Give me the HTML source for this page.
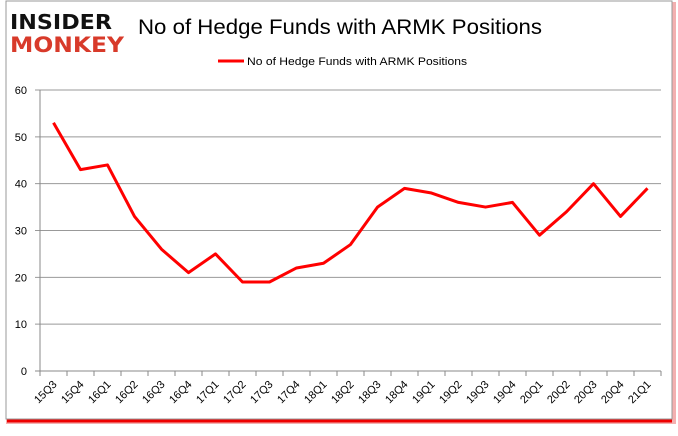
<!DOCTYPE html>
<html><head><meta charset="utf-8"><style>
body{margin:0;background:#fff;width:678px;height:431px;overflow:hidden;font-family:"Liberation Sans",sans-serif}
</style></head><body>
<svg width="678" height="431">
<rect x="8" y="4" width="666" height="418" fill="none" stroke="#f3b0b0" stroke-width="4"/>
<rect x="6" y="1" width="666" height="418" fill="#fff" stroke="#999" stroke-width="1"/>
<line x1="7" y1="421" x2="672" y2="421" stroke="#e00" stroke-width="3"/>
<g font-weight="bold" font-family="'DejaVu Sans',sans-serif">
<text x="10" y="29" font-size="20" fill="#111" textLength="102" lengthAdjust="spacingAndGlyphs">INSIDER</text>
<text x="10" y="52" font-size="21" fill="#d83a2a" textLength="114" lengthAdjust="spacingAndGlyphs">MONKEY</text>
</g>
<text x="138" y="34" font-size="21" fill="#000" textLength="404" lengthAdjust="spacingAndGlyphs">No of Hedge Funds with ARMK Positions</text>
<g>
<line x1="218" y1="61" x2="244" y2="61" stroke="#f00" stroke-width="3"/>
<text x="247" y="65" font-size="11" fill="#000" textLength="220" lengthAdjust="spacingAndGlyphs">No of Hedge Funds with ARMK Positions</text>
</g>
<g id="grid"></g><g id="axes"></g>
<polyline id="line" fill="none" stroke="#f00" stroke-width="3" stroke-linejoin="round"/>
</svg>
<script>
const categories=["15Q3","15Q4","16Q1","16Q2","16Q3","16Q4","17Q1","17Q2","17Q3","17Q4","18Q1","18Q2","18Q3","18Q4","19Q1","19Q2","19Q3","19Q4","20Q1","20Q2","20Q3","20Q4","21Q1"];
const values=[53,43,44,33,26,21,25,19,19,22,23,27,35,39,38,36,35,36,29,34,40,33,39];
const yTicks=[0,10,20,30,40,50,60];
const NS="http://www.w3.org/2000/svg";
const x0=40,x1=661,y0=371,y1=90;
const step=(x1-x0)/categories.length;
const xs=i=>x0+step*(i+0.5);
const ys=v=>y0-(v/60)*(y0-y1);
const g=document.getElementById('grid'),a=document.getElementById('axes');
function mk(t,at,p){const e=document.createElementNS(NS,t);for(const k in at)e.setAttribute(k,at[k]);p.appendChild(e);return e;}
yTicks.forEach(v=>{
 const l=mk('line',{x1:x0-5,x2:x1,y1:ys(v),y2:ys(v),stroke:v===0?'#888':'#999','stroke-width':1},g);
 
 
 const t=mk('text',{x:27,y:ys(v)+4,'font-size':11,'text-anchor':'end',fill:'#000'},a);
 t.textContent=v;
 
 
});
const ax=mk('line',{x1:x0,x2:x0,y1:y1,y2:y0,stroke:'#888'},a);


categories.forEach((c,i)=>{
 const tx=x0+step*i;
 mk('line',{x1:tx,x2:tx,y1:y0,y2:y0+5,stroke:'#888'},a);
 const cx=xs(i)+4,cy=y0+14;
 const t=mk('text',{x:cx,y:cy,'font-size':11,'text-anchor':'end',fill:'#000',transform:`rotate(-45 ${cx} ${cy})`},a);
 t.textContent=c;
 
 
});
mk('line',{x1:x1,x2:x1,y1:y0,y2:y0+5,stroke:'#888'},a);
document.getElementById('line').setAttribute('points',values.map((v,i)=>xs(i)+','+ys(v)).join(' '));
</script>
</body></html>
